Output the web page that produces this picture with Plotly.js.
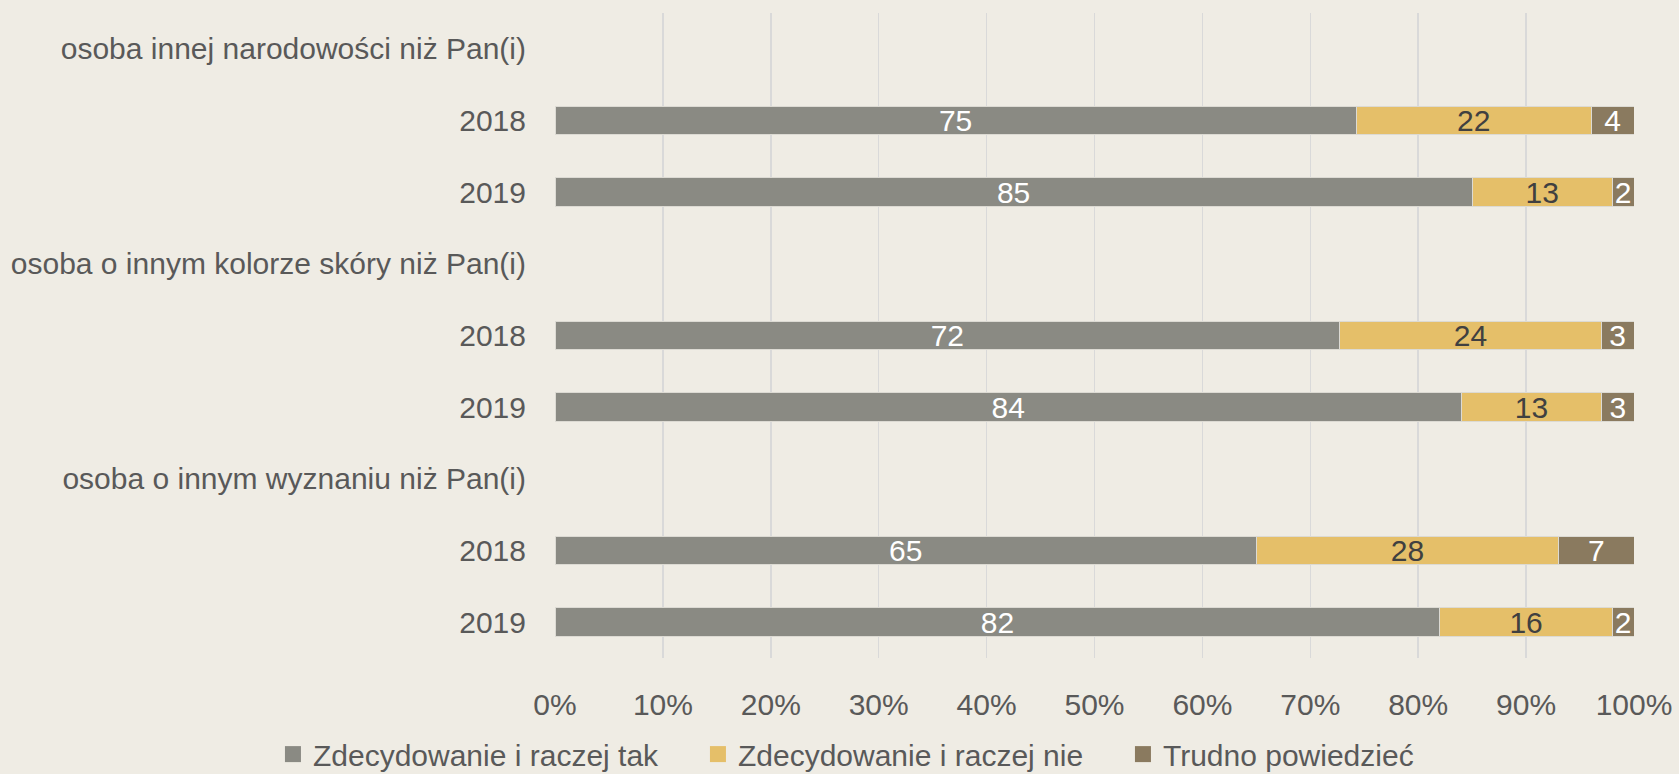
<!DOCTYPE html>
<html>
<head>
<meta charset="utf-8">
<script src="https://cdn.plot.ly/plotly-3.0.1.min.js"></script>
<style>html,body{margin:0;padding:0;background:#EFECE4;}#chart{width:1679px;height:774px;}</style>
</head>
<body>
<div id="chart"></div>
<script>
// Row labels (top to bottom); category header rows carry no bars
const rowLabels = [
  "osoba innej narodowości niż Pan(i)", "2018", "2019",
  "osoba o innym kolorze skóry niż Pan(i)", "2018", "2019",
  "osoba o innym wyznaniu niż Pan(i)", "2018", "2019"
];
const seriesNames = ["Zdecydowanie i raczej tak", "Zdecydowanie i raczej nie", "Trudno powiedzieć"];
const tak   = [null, 75, 85, null, 72, 84, null, 65, 82];
const nie   = [null, 22, 13, null, 24, 13, null, 28, 16];
const trudno= [null, 4, 2, null, 3, 3, null, 7, 2];
const xTickVals = [0,10,20,30,40,50,60,70,80,90,100];

const rowIdx = rowLabels.map((_, i) => i);
const colors = ["#8A8A83", "#E5BF69", "#8A7A5F"];
const textColors = ["#FFFFFF", "#404040", "#FFFFFF"];
const FONT = "'Liberation Sans', Arial, sans-serif";
const FS = 30;

const traces = [tak, nie, trudno].map((vals, k) => ({
  type: "bar",
  orientation: "h",
  name: seriesNames[k],
  showlegend: false,
  y: rowIdx,
  x: vals,
  text: vals.map(v => v === null ? "" : String(v)),
  texttemplate: "%{text}",
  textposition: "inside",
  insidetextanchor: "middle",
  textangle: 0,
  constraintext: "none",
  textfont: {family: FONT, size: FS, color: textColors[k]},
  marker: {color: colors[k], line: {color: "#DCDAD3", width: 1}},
  hoverinfo: "skip",
  cliponaxis: false
}));

// legend entries (square swatches) for the three series
seriesNames.forEach((nm, k) => {
  traces.push({
    type: "scatter", mode: "markers", name: nm,
    x: [null], y: [null],
    marker: {symbol: "square", size: 16, color: colors[k]},
    showlegend: true, hoverinfo: "skip"
  });
});

const layout = {
  width: 1679, height: 774,
  paper_bgcolor: "#EFECE4",
  plot_bgcolor: "#EFECE4",
  barmode: "stack",
  barnorm: "percent",
  bargap: 0.6,
  margin: {l: 555, r: 45, t: 13, b: 116, autoexpand: false},
  font: {family: FONT, size: FS, color: "#595959"},
  xaxis: {
    range: [0, 100],
    tickvals: xTickVals,
    ticktext: xTickVals.map(v => v + "%"),
    showgrid: true, gridcolor: "#D9D9D9", gridwidth: 1.5,
    zeroline: false, showline: false,
    ticks: "outside", ticklen: 20, tickcolor: "rgba(0,0,0,0)",
    tickfont: {family: FONT, size: FS, color: "#595959"},
    fixedrange: true
  },
  yaxis: {
    range: [8.5, -0.5],
    tickvals: rowIdx,
    ticktext: rowLabels,
    showgrid: false, zeroline: false, showline: false,
    ticks: "outside", ticklen: 22, tickcolor: "rgba(0,0,0,0)",
    tickfont: {family: FONT, size: FS, color: "#595959"},
    fixedrange: true
  },
  showlegend: true,
  legend: {
    orientation: "h",
    x: -0.2614, xanchor: "left",
    y: -0.149, yanchor: "middle",
    font: {family: FONT, size: FS, color: "#595959"},
    traceorder: "normal",
    entrywidth: 380, entrywidthmode: "pixels",
    itemwidth: 30,
    bgcolor: "rgba(0,0,0,0)"
  }
};

Plotly.newPlot("chart", traces, layout, {displayModeBar: false, staticPlot: true});
</script>
</body>
</html>
